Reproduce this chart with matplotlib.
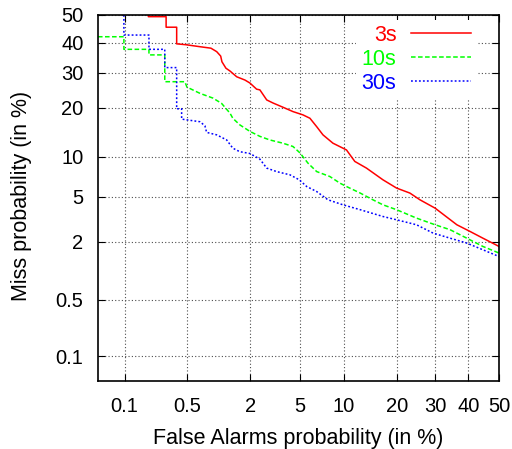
import numpy as np
import matplotlib
matplotlib.use("Agg")
import matplotlib.pyplot as plt
from statistics import NormalDist

# ---------------- data (percent) ----------------
fa_3s = [0.19, 0.19, 0.30, 0.30, 0.39, 0.39, 0.487, 0.68, 0.87, 0.99, 1.08, 1.11, 1.21, 1.32,
         1.52, 1.80, 1.99, 2.27, 2.42, 2.76, 3.10, 3.72, 4.45, 5.28, 5.93, 6.62, 7.31, 8.52,
         10.4, 11.7, 13.7, 16.9, 19.9, 23.1, 25.7, 29.9, 36.4, 40.6, 44.7, 50.0]
miss_3s = [50.0, 49.4, 49.4, 45.6, 45.6, 39.7, 39.4, 38.7, 38.2, 37.0, 35.5, 33.6, 31.5, 30.6,
           28.8, 27.8, 26.9, 25.1, 24.9, 22.1, 21.3, 20.2, 19.1, 18.3, 17.5, 15.6, 13.9, 12.3,
           11.1, 9.25, 8.29, 6.79, 5.86, 5.35, 4.72, 4.02, 2.88, 2.50, 2.17, 1.81]

fa_10s = [0.0466, 0.098, 0.098, 0.193, 0.193, 0.29, 0.29, 0.476, 0.50, 0.68, 0.91, 1.10, 1.32,
          1.40, 1.62, 1.99, 2.42, 2.93, 3.72, 4.45, 5.02, 5.74, 6.62, 8.13, 9.46, 10.4, 12.6,
          14.9, 16.9, 19.9, 24.8, 29.9, 34.3, 39.5, 44.7, 50.0]
miss_10s = [42.2, 42.2, 37.8, 37.8, 35.9, 35.9, 27.3, 27.3, 25.7, 23.9, 22.6, 21.2, 18.7,
            17.5, 16.0, 14.6, 13.6, 12.9, 12.3, 11.7, 10.6, 9.0, 7.82, 7.19, 6.40, 6.03, 5.35,
            4.72, 4.29, 3.90, 3.30, 2.88, 2.60, 2.17, 1.81, 1.56]

fa_30s = [0.098, 0.098, 0.193, 0.193, 0.29, 0.29, 0.39, 0.39, 0.44, 0.44, 0.68, 0.76, 0.79,
          0.99, 1.23, 1.40, 1.62, 1.99, 2.42, 2.76, 3.32, 4.22, 4.96, 5.62, 6.62, 7.90, 9.88,
          12.6, 16.9, 19.9, 24.8, 29.3, 34.3, 39.5, 44.7, 50.0]
miss_30s = [50.0, 42.8, 42.8, 37.8, 37.8, 31.7, 31.7, 19.8, 19.8, 17.3, 16.7, 15.8, 14.4,
            13.9, 12.9, 11.4, 10.8, 10.5, 9.6, 8.29, 7.82, 7.40, 6.79, 6.03, 5.50, 4.72, 4.29,
            3.90, 3.41, 3.19, 2.88, 2.42, 2.17, 1.95, 1.68, 1.44]

tick_vals = [0.1, 0.5, 2, 5, 10, 20, 30, 40, 50]
tick_labels = ["0.1", "0.5", "2", "5", "10", "20", "30", "40", "50"]
series_labels = ["3s", "10s", "30s"]

# ---------------- probit scale ----------------
_N = NormalDist()
_ppf = np.vectorize(_N.inv_cdf, otypes=[float])
_cdf = np.vectorize(_N.cdf, otypes=[float])


def fwd(p):
    p = np.asarray(p, dtype=float)
    q = np.clip(p / 100.0, 1e-9, 1 - 1e-9)
    return _ppf(q)


def inv(z):
    z = np.asarray(z, dtype=float)
    return 100.0 * _cdf(z)


plt.rcParams['font.family'] = ['Liberation Sans', 'DejaVu Sans']

fig = plt.figure(figsize=(5.12, 4.49), dpi=100)
ax = fig.add_axes([98 / 512, 1 - 380.7 / 449, 401 / 512, 365.7 / 449])
ax.set_xscale('function', functions=(fwd, inv))
ax.set_yscale('function', functions=(fwd, inv))

lo = 100 * _N.cdf(-3.31)
ax.set_xlim(lo, 50)
ax.set_ylim(lo, 50)

ax.plot(fa_3s, miss_3s, color='#ff0000', lw=1.1, ls='-', label=series_labels[0])
ax.plot(fa_10s, miss_10s, color='#00ff00', lw=1.1, dashes=(3.0, 1.6), label=series_labels[1])
ax.plot(fa_30s, miss_30s, color='#0000ff', lw=1.1, dashes=(1.2, 1.4), label=series_labels[2])

ax.set_xticks(tick_vals)
ax.set_xticklabels(tick_labels)
ax.set_yticks(tick_vals)
ax.set_yticklabels(tick_labels)
ax.minorticks_off()

ax.tick_params(axis='both', direction='in', length=5, width=0.8, labelsize=14.5,
               top=True, right=True)
ax.tick_params(axis='x', pad=12)
ax.tick_params(axis='y', pad=10.5)

ax.grid(True, color='0.3', ls=(0, (1, 2)), lw=0.8)
ax.set_axisbelow(True)
for s in ax.spines.values():
    s.set_linewidth(1.2)

ax.set_xlabel("False Alarms probability (in %)", fontsize=15.5)
ax.set_ylabel("Miss probability (in %)", fontsize=15.5)
ax.xaxis.set_label_coords(0.5, (380.7 - 428) / 365.7)
ax.yaxis.set_label_coords((31.7 - 98) / 401, (380.7 - 196) / 365.7)

leg = ax.legend(loc='upper right', bbox_to_anchor=((476.5 - 98) / 401, (380.7 - 19.6) / 365.7),
                markerfirst=False, fontsize=15.5, handlelength=2.79, handletextpad=0.68,
                labelspacing=0.13, borderpad=0.25, borderaxespad=0.0, frameon=True,
                fancybox=False, framealpha=1.0, labelcolor='linecolor')
leg.get_frame().set_edgecolor('none')
leg.get_frame().set_facecolor('white')

fig.savefig("out.png", dpi=100)
